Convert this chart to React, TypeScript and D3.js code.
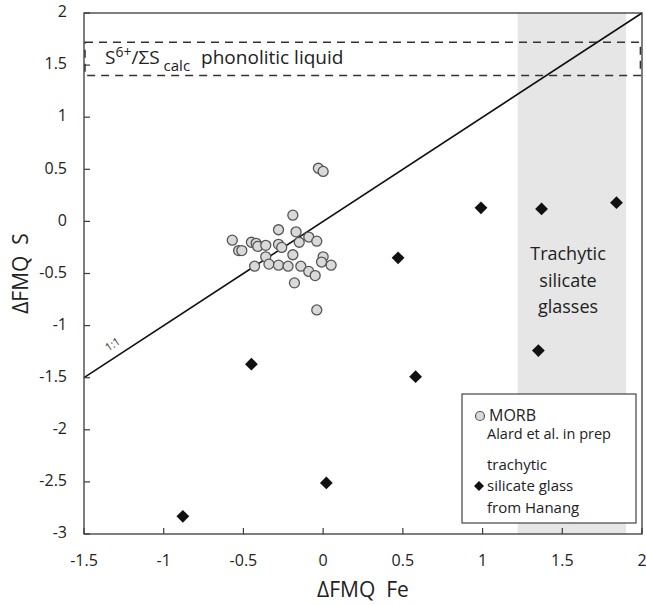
import React from "react";
import * as d3 from "d3";

const morbX = [-0.03, 0.0, -0.19, -0.28, -0.17, -0.09, -0.04, -0.57, -0.45, -0.42, -0.41, -0.36, -0.28, -0.26, -0.15, -0.53, -0.51, -0.36, -0.19, 0.0, -0.01, 0.05, -0.43, -0.34, -0.28, -0.22, -0.14, -0.09, -0.05, -0.18, -0.04];
const morbY = [0.51, 0.48, 0.06, -0.08, -0.10, -0.15, -0.19, -0.18, -0.20, -0.21, -0.24, -0.23, -0.22, -0.25, -0.20, -0.28, -0.28, -0.34, -0.32, -0.34, -0.39, -0.42, -0.43, -0.41, -0.42, -0.43, -0.43, -0.48, -0.52, -0.59, -0.85];

const glassX = [-0.88, -0.45, 0.02, 0.47, 0.58, 0.99, 1.35, 1.37, 1.84];
const glassY = [-2.83, -1.37, -2.51, -0.35, -1.49, 0.13, -1.24, 0.12, 0.18];

const xTicks = [-1.5, -1, -0.5, 0, 0.5, 1, 1.5, 2];
const yTicks = [2, 1.5, 1, 0.5, 0, -0.5, -1, -1.5, -2, -2.5, -3];

const bandRange = [1.22, 1.9];
const phonoliticRange = [1.4, 1.72];
const oneToOne = [-1.5, 2];

const FONT = "'Open Sans', 'Noto Sans', sans-serif";

export default function App() {
  const x = d3.scaleLinear().domain([-1.5, 2]).range([84, 642]);
  const y = d3.scaleLinear().domain([-3, 2]).range([534, 13]);
  const fmt = (v: number) => String(v);
  const diamond = d3.symbol().type(d3.symbolSquare).size(82)();
  const diamondSmall = d3.symbol().type(d3.symbolSquare).size(50)();
  const lineAngle = (Math.atan2(y(0) - y(1), x(1) - x(0)) * 180) / Math.PI;
  const axisColor = "#3a3a3a";

  return (
    <svg width={646} height={605} style={{ position: "absolute", left: 0, top: 0, background: "#fff" }} fontFamily={FONT}>
      {/* gray band */}
      <rect x={x(bandRange[0])} y={y(2)} width={x(bandRange[1]) - x(bandRange[0])} height={y(-3) - y(2)} fill="#e6e6e6" />
      {/* phonolitic dashed box */}
      <rect x={x(-1.5) + 1} y={y(phonoliticRange[1])} width={x(1.99) - x(-1.5) - 1} height={y(phonoliticRange[0]) - y(phonoliticRange[1])}
        fill="none" stroke="#333" strokeWidth={1.5} strokeDasharray="8,6" />
      <text x={105} y={64} fontSize={19} fill="#222">
        <tspan>S</tspan>
        <tspan fontSize={14} dy={-7}>6+</tspan>
        <tspan dy={7}>/ΣS</tspan>
        <tspan fontSize={15} dy={7} dx={4}>calc</tspan>
        <tspan dy={-7} dx={11}>phonolitic liquid</tspan>
      </text>
      {/* 1:1 line */}
      <line x1={x(oneToOne[0])} y1={y(oneToOne[0])} x2={x(oneToOne[1])} y2={y(oneToOne[1])} stroke="#111" strokeWidth={1.6} />
      <text x={113} y={345} fontSize={11} fill="#333" textAnchor="middle" dominantBaseline="middle"
        transform={`rotate(${-lineAngle} 113 345)`}>1:1</text>
      {/* frame */}
      <rect x={x(-1.5)} y={y(2)} width={x(2) - x(-1.5)} height={y(-3) - y(2)} fill="none" stroke={axisColor} strokeWidth={1.3} />
      {/* ticks */}
      {xTicks.map((t) => (
        <g key={"xt" + t}>
          <line x1={x(t)} x2={x(t)} y1={y(-3)} y2={y(-3) - 6} stroke={axisColor} strokeWidth={1.2} />
          <text x={x(t)} y={562} fontSize={16} fill="#222" textAnchor="middle" dominantBaseline="middle">{fmt(t)}</text>
        </g>
      ))}
      {yTicks.map((t) => (
        <g key={"yt" + t}>
          <line x1={x(-1.5)} x2={x(-1.5) + 6} y1={y(t)} y2={y(t)} stroke={axisColor} strokeWidth={1.2} />
          <text x={67} y={y(t)} fontSize={16} fill="#222" textAnchor="end" dominantBaseline="middle">{fmt(t)}</text>
        </g>
      ))}
      {/* axis titles */}
      <text x={363} y={591} fontSize={21} fill="#222" textAnchor="middle" dominantBaseline="middle" xmlSpace="preserve">ΔFMQ  Fe</text>
      <text x={0} y={0} fontSize={21} fill="#222" textAnchor="middle" dominantBaseline="middle" xmlSpace="preserve"
        transform={`translate(22 ${(y(2) + y(-3)) / 2}) rotate(-90)`}>ΔFMQ  S</text>
      {/* band label */}
      <text x={568} fontSize={18} fill="#222" textAnchor="middle">
        <tspan x={568} y={260}>Trachytic</tspan>
        <tspan x={568} y={287}>silicate</tspan>
        <tspan x={568} y={313}>glasses</tspan>
      </text>
      {/* MORB */}
      {morbX.map((v, i) => (
        <circle key={"m" + i} cx={x(v)} cy={y(morbY[i])} r={5} fill="#d9d9d9" stroke="#555" strokeWidth={1.3} />
      ))}
      {/* glasses */}
      {glassX.map((v, i) => (
        <path key={"g" + i} d={diamond!} transform={`translate(${x(v)} ${y(glassY[i])}) rotate(45)`} fill="#111" />
      ))}
      {/* legend */}
      <rect x={462} y={394} width={174} height={129} fill="#fff" stroke="#444" strokeWidth={1.2} />
      <circle cx={480} cy={416} r={4.5} fill="#d9d9d9" stroke="#555" strokeWidth={1.2} />
      <text x={489} y={421} fontSize={16} fill="#222">MORB</text>
      <text x={487} y={439} fontSize={14.5} fill="#222">Alard et al. in prep</text>
      <text x={487} y={470} fontSize={15} fill="#222">trachytic</text>
      <path d={diamondSmall!} transform="translate(479 486) rotate(45)" fill="#111" />
      <text x={487} y={491} fontSize={15} fill="#222">silicate glass</text>
      <text x={487} y={513} fontSize={15} fill="#222">from Hanang</text>
    </svg>
  );
}
